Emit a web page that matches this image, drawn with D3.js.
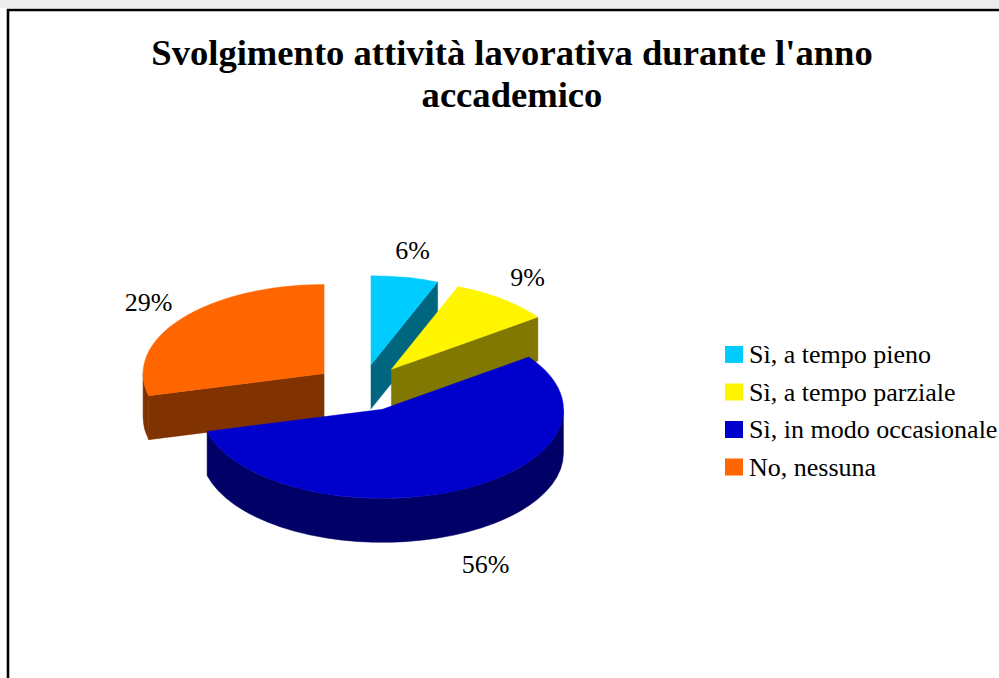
<!DOCTYPE html>
<html>
<head>
<meta charset="utf-8">
<script src="https://cdn.jsdelivr.net/npm/d3@7"></script>
<style>
  html, body { margin: 0; padding: 0; background: #fff; }
  svg { display: block; }
</style>
</head>
<body>
<div id="chart"></div>
<script>
// data
const categories = ["Sì, a tempo pieno", "Sì, a tempo parziale", "Sì, in modo occasionale", "No, nessuna"];
const values = [6, 9, 56, 29];
const valueLabels = ["6%", "9%", "56%", "29%"];
const topColors = ["#00CCFF", "#FFF500", "#0000CC", "#FF6600"];
const sideColors = ["#006680", "#807800", "#000066", "#803300"];
const titleLines = ["Svolgimento attività lavorativa durante l'anno", "accademico"];

const W = 999, H = 678;
const serif = '"Liberation Serif"';

const svg = d3.select("#chart").append("svg")
  .attr("width", W)
  .attr("height", H);

svg.append("rect").attr("width", W).attr("height", H).attr("fill", "#fff");
svg.append("rect").attr("width", W).attr("height", 8).attr("fill", "#ececec");

// frame, open to the right and bottom like the cropped original
svg.append("path")
  .attr("d", "M8,700 V10 H1010")
  .attr("fill", "none")
  .attr("stroke", "#000")
  .attr("stroke-width", 2.6);

// title
const title = svg.append("text")
  .attr("text-anchor", "middle")
  .attr("font-family", serif)
  .attr("font-weight", "bold")
  .attr("font-size", 36.6)
  .attr("fill", "#000");
titleLines.forEach((t, i) => {
  title.append("tspan")
    .attr("x", 512)
    .attr("y", 65 + i * 42)
    .text(t);
});

// 3d pie geometry
const cx = 362, cy = 388;
const rx = 181, ry = 89;
const depth = 44;
const explode = 48;
const k = ry / rx;

const pie = d3.pie().sort(null).value(d => d)(values);

const slices = pie.map((p, i) => {
  const mid = (p.startAngle + p.endAngle) / 2;
  const ox = explode * Math.sin(mid);
  const oy = -explode * k * Math.cos(mid);
  return { ...p, i, mid, ox, oy };
});

function pt(s, a, h) {
  return [cx + s.ox + rx * Math.sin(a), cy + s.oy - ry * Math.cos(a) + h];
}

function topPath(s) {
  const c = [cx + s.ox, cy + s.oy];
  const p0 = pt(s, s.startAngle, 0), p1 = pt(s, s.endAngle, 0);
  const large = s.endAngle - s.startAngle > Math.PI ? 1 : 0;
  return `M${c}L${p0}A${rx},${ry} 0 ${large} 1 ${p1}Z`;
}

function outerWall(s, a, b) {
  const large = b - a > Math.PI ? 1 : 0;
  const t0 = pt(s, a, 0), t1 = pt(s, b, 0);
  const b1 = pt(s, b, depth), b0 = pt(s, a, depth);
  return `M${t0}A${rx},${ry} 0 ${large} 1 ${t1}L${b1}A${rx},${ry} 0 ${large} 0 ${b0}Z`;
}

function radialWall(s, a) {
  const c0 = [cx + s.ox, cy + s.oy];
  const c1 = [cx + s.ox, cy + s.oy + depth];
  return `M${c0}L${pt(s, a, 0)}L${pt(s, a, depth)}L${c1}Z`;
}

const pieG = svg.append("g");

// back slices first
slices.slice().sort((a, b) => a.oy - b.oy).forEach(s => {
  const g = pieG.append("g");
  const side = sideColors[s.i];

  // cut faces
  if (Math.sin(s.startAngle) < -1e-6) {
    g.append("path").attr("d", radialWall(s, s.startAngle))
      .attr("fill", side).attr("stroke", side).attr("stroke-width", 0.5);
  }
  if (Math.sin(s.endAngle) > 1e-6) {
    g.append("path").attr("d", radialWall(s, s.endAngle))
      .attr("fill", side).attr("stroke", side).attr("stroke-width", 0.5);
  }

  // front outer wall
  const a = Math.max(s.startAngle, Math.PI / 2);
  const b = Math.min(s.endAngle, 3 * Math.PI / 2);
  if (b > a) {
    g.append("path").attr("d", outerWall(s, a, b))
      .attr("fill", side).attr("stroke", side).attr("stroke-width", 0.5);
  }

  g.append("path").attr("d", topPath(s))
    .attr("fill", topColors[s.i])
    .attr("stroke", topColors[s.i])
    .attr("stroke-width", 0.5);
});

// percentage labels, a bit further out on the front side
const lr = 222, lry = 116;
svg.append("g").selectAll("text")
  .data(slices)
  .join("text")
  .attr("x", s => cx + s.ox + (Math.cos(s.mid) < 0 ? lr + 20 : lr) * Math.sin(s.mid))
  .attr("y", s => cy + s.oy - lry * Math.cos(s.mid) + (Math.cos(s.mid) < 0 ? depth + 6 : 0))
  .attr("text-anchor", "middle")
  .attr("dominant-baseline", "central")
  .attr("font-family", serif)
  .attr("font-size", 26)
  .attr("fill", "#000")
  .text(s => valueLabels[s.i]);

// legend
const legend = svg.append("g").attr("transform", "translate(725,346)");
const row = legend.selectAll("g")
  .data(categories)
  .join("g")
  .attr("transform", (d, i) => `translate(0,${i * 37.5})`);
row.append("rect")
  .attr("width", 18)
  .attr("height", 17)
  .attr("fill", (d, i) => topColors[i]);
row.append("text")
  .attr("x", 24)
  .attr("y", 17)
  .attr("font-family", serif)
  .attr("font-size", 26)
  .attr("fill", "#000")
  .text(d => d);
</script>
</body>
</html>
